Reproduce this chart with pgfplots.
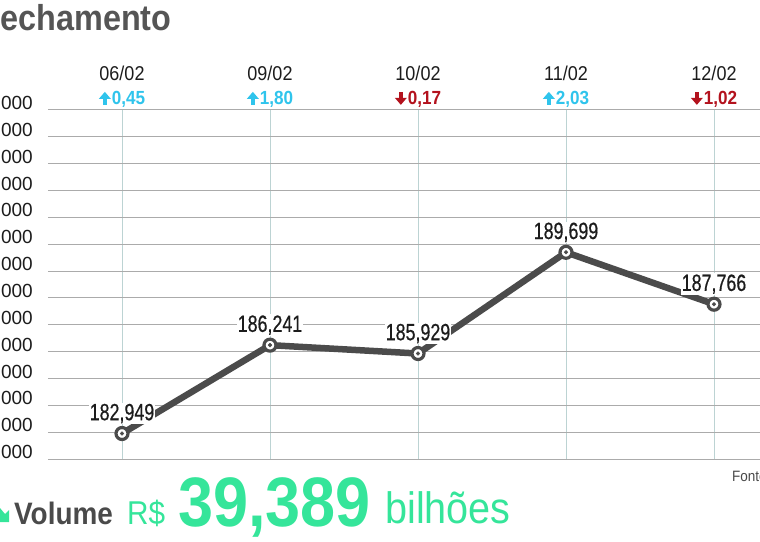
\documentclass[border=0pt]{standalone}
\usepackage{fontspec}
\setmainfont{Liberation Sans}[FakeStretch=0.9]
\newfontfamily\tickfont{Liberation Sans}
\newfontfamily\labfont{Liberation Sans}[FakeStretch=0.76,FakeBold=0.5]
\usepackage{pgfplots}
\pgfplotsset{compat=1.18}
\definecolor{upc}{HTML}{2FC4EC}
\definecolor{dnc}{HTML}{B3121D}
\definecolor{grn}{HTML}{35E59A}
\definecolor{titlec}{HTML}{555555}
\definecolor{volc}{HTML}{4A4A4A}
\definecolor{linec}{HTML}{4B4B4B}
\definecolor{vgrid}{HTML}{BCD3D3}
\definecolor{hgrid}{HTML}{ABABAB}
\definecolor{txt}{HTML}{1C1C1C}
\newcommand{\uparr}{\tikz[baseline=0pt,x=1pt,y=1pt]{\fill[upc] (-2,0) rectangle (2,7); \fill[upc] (-6,6) -- (6,6) -- (0,13) -- cycle;}}
\newcommand{\dnarr}{\tikz[baseline=0pt,x=1pt,y=1pt]{\fill[dnc] (-2,6) rectangle (2,13); \fill[dnc] (-6,7) -- (6,7) -- (0,0) -- cycle;}}
\newcommand{\up}[1]{{\color{upc}\fontsize{19}{24}\selectfont\bfseries\uparr\hspace{1pt}#1}}
\newcommand{\dn}[1]{{\color{dnc}\fontsize{19}{24}\selectfont\bfseries\dnarr\hspace{1pt}#1}}
\begin{document}
\begin{tikzpicture}[x=1pt,y=1pt]
\useasboundingbox (0,0) rectangle (760,541);
\begin{scope}
\clip (0,0) rectangle (760,541);
\begin{axis}[
  at={(48pt,82pt)}, anchor=south west,
  scale only axis, width=740pt, height=349pt,
  xmin=-0.5, xmax=4.5, ymin=182000, ymax=195000,
  xtick={0,1,2,3,4},
  xticklabels={{06/02\\\up{0,45}}, {09/02\\\up{1,80}}, {10/02\\\dn{0,17}}, {11/02\\\up{2,03}}, {12/02\\\dn{1,02}}},
  xticklabel pos=upper,
  xticklabel style={align=center, font=\fontsize{20}{24}\selectfont, text=txt, inner sep=0pt, yshift=2pt},
  ytick={182000,183000,184000,185000,186000,187000,188000,189000,190000,191000,192000,193000,194000,195000},
  yticklabels={182.000,183.000,184.000,185.000,186.000,187.000,188.000,189.000,190.000,191.000,192.000,193.000,194.000,195.000},
  scaled y ticks=false,
  yticklabel style={font=\tickfont\fontsize{19}{19}\selectfont, inner sep=0pt, xshift=-15pt, yshift=7pt, text=txt},
  major tick length=0pt,
  axis line style={draw=none},
  xmajorgrids, ymajorgrids,
  major x grid style={vgrid, line width=1pt},
  major y grid style={hgrid, line width=1pt},
  clip=false,
]
\addplot[linec, line width=6.5pt, line join=round, mark=*, mark size=6pt,
  mark options={fill=white, draw=linec, line width=3.2pt},
  nodes near coords, point meta=explicit symbolic,
  every node near coord/.append style={anchor=center, yshift=20pt, fill=white, inner sep=1pt, font=\labfont\fontsize{23.5}{24}\selectfont, text=txt}]
  coordinates {(0,182949)[182,949] (1,186241)[186,241] (2,185929)[185,929] (3,189699)[189,699] (4,187766)[187,766]};
\addplot[only marks, mark=*, mark size=1.9pt, linec] coordinates {(0,182949) (1,186241) (2,185929) (3,189699) (4,187766)};
\end{axis}
\node[anchor=base west, inner sep=0, font=\bfseries\fontsize{36}{36}\selectfont, text=titlec] at (-19.5,510) {Fechamento};
\fill[grn] (0,19) -- (9,19) -- (9,31) -- (5,27) -- (0,33) -- cycle;
\node[anchor=base west, inner sep=0, font=\bfseries\fontsize{31}{31}\selectfont, text=volc] at (14,17) {Volume};
\node[anchor=base west, inner sep=0, font=\fontsize{33}{33}\selectfont, text=grn] at (127,17) {R\$};
\node[anchor=base west, inner sep=0, font=\bfseries\fontsize{70}{70}\selectfont, text=grn] at (178,15) {39,389};
\node[anchor=base west, inner sep=0, font=\fontsize{44}{44}\selectfont, text=grn] at (385,18) {bilhões};
\node[anchor=base west, inner sep=0, font=\fontsize{15}{15}\selectfont, text=txt!80] at (732,60) {Fonte: B3};
\end{scope}
\end{tikzpicture}
\end{document}
